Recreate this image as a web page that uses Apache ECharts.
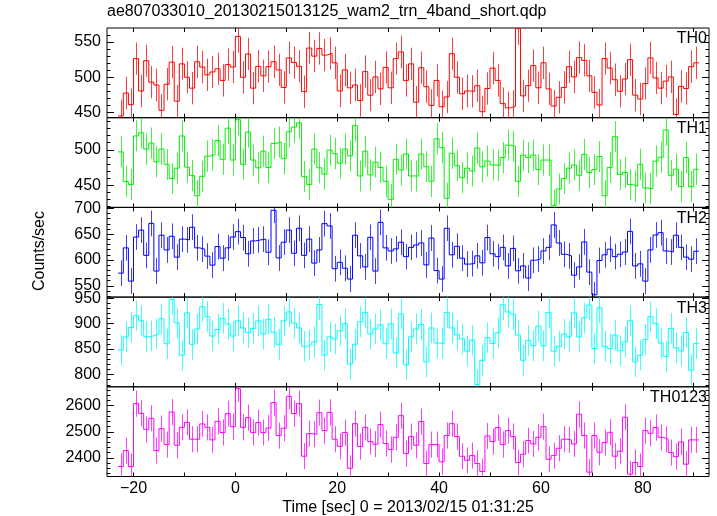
<!DOCTYPE html>
<html><head><meta charset="utf-8">
<script src="https://cdn.jsdelivr.net/npm/echarts@6/dist/echarts.min.js"></script>
<style>html,body{margin:0;padding:0;background:#fff}#c{width:717px;height:516px}</style>
</head><body><div id="c"></div>
<script>
// bin centres (sec), 1-s bins
const time = [-22.5,-21.5,-20.5,-19.5,-18.5,-17.5,-16.5,-15.5,-14.5,-13.5,-12.5,-11.5,-10.5,-9.5,-8.5,-7.5,-6.5,-5.5,-4.5,-3.5,-2.5,-1.5,-0.5,0.5,1.5,2.5,3.5,4.5,5.5,6.5,7.5,8.5,9.5,10.5,11.5,12.5,13.5,14.5,15.5,16.5,17.5,18.5,19.5,20.5,21.5,22.5,23.5,24.5,25.5,26.5,27.5,28.5,29.5,30.5,31.5,32.5,33.5,34.5,35.5,36.5,37.5,38.5,39.5,40.5,41.5,42.5,43.5,44.5,45.5,46.5,47.5,48.5,49.5,50.5,51.5,52.5,53.5,54.5,55.5,56.5,57.5,58.5,59.5,60.5,61.5,62.5,63.5,64.5,65.5,66.5,67.5,68.5,69.5,70.5,71.5,72.5,73.5,74.5,75.5,76.5,77.5,78.5,79.5,80.5,81.5,82.5,83.5,84.5,85.5,86.5,87.5,88.5,89.5,90.5];
const binWidth = 1;

const th0 = [445,477.5,461,526.5,480.5,523.5,493,489,453,490,521.5,466,519,500,484.5,522,514.5,503.5,507.5,512,495.5,518,514.5,558,500,533,484.5,515.5,502,515,522,510.5,485.5,527.5,521,515.5,479.5,541.5,530,541,531.5,534,520.5,480.5,510.5,485,489,467,508,474.5,500.5,483.5,514,485,526.5,536,495.5,
519,464.5,513.5,486.5,460,495.5,458,472,533.5,500,476.5,480.5,480,488,451,484,513,495.5,462.5,456.5,458.5,569,473.5,488,516.5,485,520.5,483.5,459,471.5,485.5,515,500.5,528,524,502,478.5,460.5,526.5,513,496.5,480,497.5,525,474.5,469,491,527.5,499,484.5,494.5,500.5,447,487,484,515,520.5];
const th1 = [497,455,451,519.5,524,501,509.5,483,501,479.5,459.5,474,519.5,475.5,463.5,435,462.5,491,493,513,486.5,530.5,485.5,542.5,479.5,525,485.5,474.5,498,475,509,511,487.5,525.5,532,538,462,451,501,474.5,465.5,499.5,494.5,481,501,491.5,534,463,498,464.5,482.5,475,455.5,430,486.5,471.5,494,
463,463,494,476,455.5,515.5,503,431.5,495,477.5,460.5,474,470,502.5,476,484,478.5,478,489,506.5,505,455.5,492.5,489,492.5,472,485.5,485.5,421.5,444.5,459.5,474,478.5,464,493.5,468,472,490.5,435,475,518.5,465,468,451,448.5,479.5,446,445,484,489.5,528,464,472.5,448,489,448,472.5];
const th2 = [574.5,623.5,559,644.5,658,609,671,578.5,648,619.5,646,605.5,640.5,639,663.5,623.5,621,607.5,590,626,603.5,623.5,644.5,655,643.5,612,637,639,640.5,615,696.5,604,634.5,658,613,661.5,609,640.5,594,619.5,670.5,666,583,595.5,584,563,648,608,586.5,644,578.5,673,623.5,617.5,621.5,634.5,606.5,
624.5,629,633,590.5,642.5,579.5,563,661.5,610,626.5,603.5,592,593,608,594.5,643.5,612,606.5,624.5,588.5,622.5,579,588.5,565,599.5,602,617.5,624.5,668,633,611,608,570.5,586.5,635,576.5,532.5,599,610,621,606.5,611,615.5,655.5,588.5,592.5,559,619.5,648.5,653,617.5,615.5,648,624.5,605.5,601.5,617];
const th3 = [848,874,892.5,915.5,905.5,874,876,879.5,909.5,860.5,947.5,901.5,838,921,859.5,889.5,933,913.5,875.5,888.5,910.5,899,875.5,905.5,891.5,882,890.5,905.5,879.5,908.5,883,859.5,905.5,923,901,891.5,855.5,858.5,864,937.5,838,874,870,886,900,820.5,859.5,903.5,922,879.5,889.5,897.5,860.5,899.5,842.5,919,819,
874,889.5,898.5,825,891.5,862,861,922,891.5,878,870,846,867.5,780.5,828,872.5,861,882,937,923,918.5,877.5,828,867,856.5,895,856.5,922,846,855.5,879.5,874,921,874,911.5,936.5,851,931,855.5,851,877.5,846.5,864,905.5,825,838,869,913.5,900,862,835.5,890.5,852.5,846.5,882.5,808.5,861];
const th0123 = [2367,2428,2367,2607.5,2570.5,2509.5,2551.5,2428,2512,2451,2575.5,2448.5,2517,2536,2471.5,2471.5,2530,2517,2469,2540,2497,2569.5,2519.5,2664.5,2517,2554,2497,2535,2497,2514.5,2611.5,2485.5,2513.5,2635.5,2569.5,2607.5,2406.5,2493,2490.5,2573,2504.5,2574.5,2471.5,2444.5,2497,2360.5,2531,2443.5,2517,2462.5,2452.5,2527.5,2455,2432,2479,2561.5,2416.5,
2481.5,2448.5,2539,2378.5,2451,2451,2385,2485.5,2531,2481.5,2406.5,2391,2409,2378.5,2348,2484,2462.5,2516,2451,2504.5,2481.5,2382.5,2414,2466.5,2453.5,2479,2519.5,2395,2409,2437,2471.5,2469,2453.5,2567,2485.5,2345.5,2485.5,2421.5,2458.5,2498,2406.5,2425.5,2555.5,2338,2382.5,2367,2504.5,2494.5,2516,2479,2471.5,2420.5,2405,2461,2376,2469,2469];

// half-length of the error bars (counts/sec)
const errTH0 = 23, errTH1 = 22, errTH2 = 25, errTH3 = 30, errTH0123 = 50;

const panelNames = ['TH0','TH1','TH2','TH3','TH0123'];
const xTicks = [-20,-10,0,10,20,30,40,50,60,70,80,90];
const xLabels = [-20,0,20,40,60,80];
const yLabTH0 = [450,500,550], yMinTH0 = [460,470,480,490,510,520,530,540,560];
const yLabTH1 = [450,500], yMinTH1 = [420,430,440,460,470,480,490,510,520,530,540];
const yLabTH2 = [550,600,650,700], yMinTH2 = [530,540,560,570,580,590,610,620,630,640,660,670,680,690];
const yLabTH3 = [800,850,900,950], yMinTH3 = [780,790,810,820,830,840,860,870,880,890,910,920,930,940];
const yLabTH0123 = [2400,2500,2600], yMinTH0123 = [2340,2360,2380,2420,2440,2460,2480,2520,2540,2560,2580,2620,2640,2660];
const xRange = [-25.2, 93.0];
const yRanges = [[442.5,570],[418.6,545.3],[528,702],[776,952],[2329,2672]];

const FONT = '"Liberation Sans", Arial, Helvetica, sans-serif';
const FS = 16;
const panels = [
  {vals:th0, err:errTH0, color:'#ff0000', lab:yLabTH0, minor:yMinTH0},
  {vals:th1, err:errTH1, color:'#00f000', lab:yLabTH1, minor:yMinTH1},
  {vals:th2, err:errTH2, color:'#0000ff', lab:yLabTH2, minor:yMinTH2},
  {vals:th3, err:errTH3, color:'#00ffff', lab:yLabTH3, minor:yMinTH3},
  {vals:th0123, err:errTH0123, color:'#ff00ff', lab:yLabTH0123, minor:yMinTH0123}
];

const gLeft = 107, gRight = 8, top0 = 28, ph = 89.7;
const grid = [], xAxis = [], yAxis = [], series = [], graphic = [];
panels.forEach((p, i) => {
  const top = top0 + i * ph;
  grid.push({left:gLeft, right:gRight, top:top, height:ph, show:true, borderColor:'#000', borderWidth:1, backgroundColor:'transparent'});
  const last = i === panels.length - 1;
  const xb = {type:'value', gridIndex:i, min:xRange[0], max:xRange[1], axisLine:{show:false, onZero:false}, splitLine:{show:false}};
  const xt = {show:true, inside:true, length:4, customValues:xTicks, lineStyle:{color:'#000', width:1}};
  xAxis.push(Object.assign({}, xb, {position:'bottom', axisTick:xt,
    axisLabel:{show:last, customValues:xLabels, color:'#000', fontSize:FS, fontFamily:FONT, margin:4,
      formatter:v => String(v).replace('-', '\u2212')}}));
  xAxis.push(Object.assign({}, xb, {position:'top', axisTick:xt, axisLabel:{show:false}}));
  const yb = {type:'value', gridIndex:i, min:yRanges[i][0], max:yRanges[i][1], axisLine:{show:false, onZero:false}, splitLine:{show:false}};
  const ytMaj = {show:true, inside:true, length:7, customValues:p.lab, lineStyle:{color:'#000', width:1}};
  const ytMin = {show:true, inside:true, length:3.5, customValues:p.minor, lineStyle:{color:'#000', width:1}};
  yAxis.push(Object.assign({}, yb, {position:'left', axisTick:ytMaj,
    axisLabel:{show:true, customValues:p.lab, color:'#000', fontSize:FS, fontFamily:FONT, margin:6,
      formatter:v => String(v)}}));
  yAxis.push(Object.assign({}, yb, {position:'left', axisTick:ytMin, axisLabel:{show:false}}));
  yAxis.push(Object.assign({}, yb, {position:'right', axisTick:ytMaj, axisLabel:{show:false}}));
  yAxis.push(Object.assign({}, yb, {position:'right', axisTick:ytMin, axisLabel:{show:false}}));

  // error bars
  series.push({type:'custom', xAxisIndex:2*i, yAxisIndex:4*i, clip:true, silent:true,
    data: time.map((t, k) => [t, p.vals[k] - p.err, p.vals[k] + p.err]),
    encode:{x:0, y:[1,2]},
    renderItem:(params, api) => {
      const a = api.coord([api.value(0), api.value(1)]);
      const b = api.coord([api.value(0), api.value(2)]);
      const x = Math.round(a[0]) + 0.5;
      return {type:'line', shape:{x1:x, y1:a[1], x2:x, y2:b[1]}, style:{stroke:p.color, lineWidth:1, opacity:0.75}};
    }});
  // histogram step line
  const stepData = [];
  time.forEach((t, k) => { stepData.push([t - binWidth/2, p.vals[k]]); stepData.push([t + binWidth/2, p.vals[k]]); });
  series.push({type:'line', xAxisIndex:2*i, yAxisIndex:4*i, data:stepData, showSymbol:false, symbol:'none',
    clip:true, silent:true, lineStyle:{color:p.color, width:1}, z:3});

  graphic.push({type:'text', right:10, top:top + 3, style:{text:panelNames[i], fill:'#000', font:FS + 'px ' + FONT, textAlign:'right'}});
});

graphic.push({type:'text', left:107, top:4, style:{text:'ae807033010_20130215013125_wam2_trn_4band_short.qdp', fill:'#000', font:FS + 'px ' + FONT}});
graphic.push({type:'text', x:408, y:508, style:{text:'Time [sec] 0 = 2013/02/15 01:31:25', fill:'#000', font:FS + 'px ' + FONT, textAlign:'center', textVerticalAlign:'middle'}});
graphic.push({type:'text', x:40, y:251, rotation:Math.PI/2, style:{text:'Counts/sec', fill:'#000', font:FS + 'px ' + FONT, textAlign:'center', textVerticalAlign:'middle'}});

const chart = echarts.init(document.getElementById('c'), null, {renderer:'canvas'});
chart.setOption({animation:false, backgroundColor:'#fff', grid, xAxis, yAxis, series, graphic});
</script></body></html>
